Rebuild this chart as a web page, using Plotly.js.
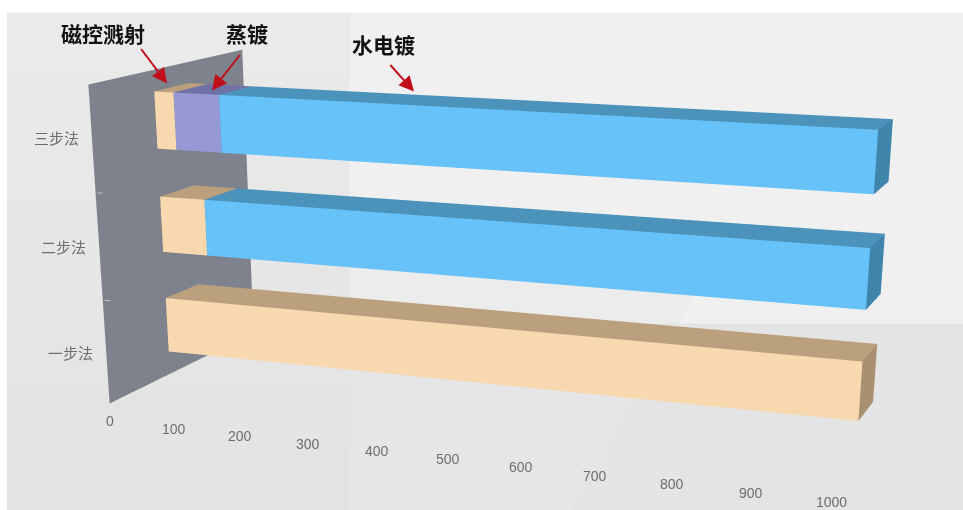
<!DOCTYPE html>
<html>
<head>
<meta charset="utf-8">
<script src="https://cdn.plot.ly/plotly-3.0.1.min.js"></script>
<style>
html,body{margin:0;padding:0;width:963px;height:510px;overflow:hidden;background:#fff}
#stage{position:absolute;left:0;width:963px}
</style>
</head>
<body>
<div id="stage"></div>
<script>
// Coating thickness by process route, stacked along the value axis
const categories = ['一步法', '二步法', '三步法'];
const magnetron = [997, 70, 30];
const evaporation = [0, 0, 70];
const plating = [0, 927, 897];
const valueTicks = [0, 100, 200, 300, 400, 500, 600, 700, 800, 900, 1000];

// Colours per series: front, top, end faces
const palette = {
  magnetron: ['#F8D9AF', '#BBA07E', '#A89070'],
  evaporation: ['#9598D3', '#6F72A5', '#5F6290'],
  plating: ['#66C2F8', '#4C93BB', '#3F84AB']
};

// The figure is larger than the window and offset upward, which gives the
// 3D view a long lens with its optical centre below the visible area
const VIEW_W = 963, VIEW_H = 510, FIG_H = 1705, TOP = -263.5;
document.getElementById('stage').style.top = TOP + 'px';
const px = x => x / VIEW_W;
const py = y => 1 - (y - TOP) / FIG_H;

const DEPTH = [0.388, 0.612];
const HALF = 0.27;

function segment(name, cat, from, to, colours) {
  const x = [from, to, to, from, from, to, to, from];
  const y = [DEPTH[0], DEPTH[0], DEPTH[1], DEPTH[1], DEPTH[0], DEPTH[0], DEPTH[1], DEPTH[1]];
  const lo = cat + 0.5 - HALF, hi = cat + 0.5 + HALF;
  const z = [lo, lo, lo, lo, hi, hi, hi, hi];
  const [fr, tp, en] = colours;
  return {
    type: 'mesh3d', name, x, y, z,
    i: [0, 0, 4, 4, 1, 1, 0, 0, 3, 3, 0, 0],
    j: [1, 5, 5, 6, 2, 6, 2, 3, 2, 6, 4, 7],
    k: [5, 4, 6, 7, 6, 5, 1, 2, 6, 7, 7, 3],
    facecolor: [fr, fr, tp, tp, en, en, tp, tp, tp, tp, en, en],
    flatshading: true,
    lighting: {ambient: 1, diffuse: 0, specular: 0, roughness: 1, fresnel: 0},
    hoverinfo: 'skip', showscale: false
  };
}

const traces = [];
categories.forEach((c, i) => {
  let start = 0;
  [['磁控溅射', magnetron, palette.magnetron],
   ['蒸镀', evaporation, palette.evaporation],
   ['水电镀', plating, palette.plating]].forEach(([name, vals, col]) => {
    if (vals[i] > 0) traces.push(segment(name, i, start, start + vals[i], col));
    start += vals[i];
  });
});

// Small separators between categories on the wall
[1, 2].forEach(k => traces.push({
  type: 'scatter3d', mode: 'lines', x: [3, 11], y: [0, 0], z: [k, k],
  line: {color: '#dedede', width: 1.5}, hoverinfo: 'skip', showlegend: false
}));

const tickFont = {family: 'Liberation Sans, Arial, sans-serif', size: 14, color: '#6e6e6e'};
const catFont = {family: '"Noto Sans CJK SC", sans-serif', size: 15, color: '#6e6e6e'};
const sceneNotes = valueTicks.map(v => ({
  x: v, y: 0, z: 0, text: String(v), showarrow: false, font: tickFont,
  xanchor: 'center', yanchor: 'middle', yshift: -18
})).concat(categories.map((c, i) => ({
  x: 0, y: 0, z: i + 0.5, text: c, showarrow: false, font: catFont,
  xanchor: 'right', yanchor: 'middle', xshift: -11
})));

const hiddenAxis = {
  showgrid: false, zeroline: false, showticklabels: false, showline: false,
  showspikes: false, ticks: '', title: {text: ''}, showbackground: false
};

const headFont = {family: '"Noto Sans CJK SC", serif', size: 21, color: '#111'};
const callouts = [
  {x: 103, y: 33, text: '磁控溅射', ax: 140, ay: 47, hx: 167, hy: 83},
  {x: 247, y: 33, text: '蒸镀', ax: 241, ay: 53, hx: 212, hy: 90},
  {x: 383, y: 43, text: '水电镀', ax: 389, ay: 63, hx: 414, hy: 91}
];
const annotations = [];
callouts.forEach(c => {
  annotations.push({xref: 'paper', yref: 'paper', x: px(c.x), y: py(c.y), text: '<b>' + c.text + '</b>',
    showarrow: false, font: headFont, xanchor: 'center', yanchor: 'middle'});
  annotations.push({xref: 'paper', yref: 'paper', x: px(c.hx), y: py(c.hy), text: '',
    showarrow: true, ax: c.ax - c.hx, ay: c.ay - c.hy, arrowhead: 2, arrowsize: 1.5,
    arrowwidth: 2, arrowcolor: '#C00F1B'});
});

// Backdrop panels of the slide behind the chart; the left column darkens
// downward in overlapping steps
const panel = (pts, fill) => ({
  type: 'path', xref: 'paper', yref: 'paper', layer: 'below', fillcolor: fill, line: {width: 0},
  path: 'M' + pts.map(p => px(p[0]) + ',' + py(p[1])).join('L') + 'Z'
});
const leftBands = ['#EAEAEA', '#E9E9E9', '#E8E8E8', '#E7E7E7', '#E6E6E6', '#E5E5E5', '#E4E4E4', '#E3E3E3'];
const bandH = (510 - 12) / leftBands.length;
const shapes = [
  panel([[349, 12], [963, 12], [963, 324], [349, 324]], '#F0F0F0'),
  panel([[349, 250], [716, 250], [680, 324], [349, 324]], '#ECECEC'),
  panel([[349, 323], [681, 323], [570, 510], [349, 510]], '#E6E6E6'),
  panel([[680, 323], [963, 323], [963, 510], [570, 510]], '#E4E4E4')
].concat(leftBands.map((c, n) => panel(
  [[7, 12 + n * bandH], [350, 12 + n * bandH], [350, 510], [7, 510]], c)));

const layout = {
  width: VIEW_W, height: FIG_H, autosize: false,
  margin: {l: 0, r: 0, t: 0, b: 0},
  paper_bgcolor: '#ffffff',
  showlegend: false,
  shapes,
  annotations,
  scene: {
    domain: {x: [0, 1], y: [0, 1]},
    bgcolor: 'rgba(0,0,0,0)',
    aspectmode: 'manual',
    aspectratio: {x: 1.7524, y: 0.7610, z: 0.7506},
    xaxis: Object.assign({}, hiddenAxis, {range: [0, 1000], showbackground: true, backgroundcolor: '#7E828C'}),
    yaxis: Object.assign({}, hiddenAxis, {range: [0, 1]}),
    zaxis: Object.assign({}, hiddenAxis, {range: [0, 2.97]}),
    camera: {
      eye: {x: 1.6735, y: -4.5254, z: 0.9707},
      center: {x: 0.0158, y: -0.2088, z: -0.7932},
      up: {x: 0.0037, y: 0.0014, z: 1},
      projection: {type: 'perspective'}
    },
    annotations: sceneNotes
  }
};

Plotly.newPlot('stage', traces, layout, {displayModeBar: false});
</script>
</body>
</html>
